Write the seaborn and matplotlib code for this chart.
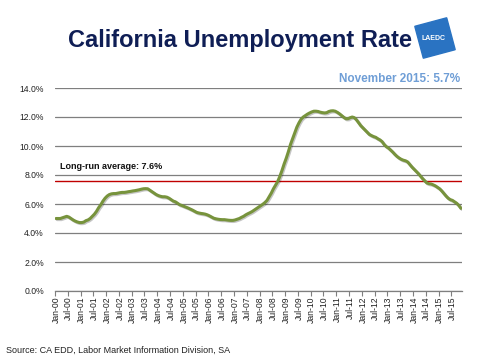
import numpy as np
import pandas as pd
import matplotlib
matplotlib.use('Agg')
import matplotlib.pyplot as plt
import matplotlib.patheffects as pe
from matplotlib.patches import Polygon
import seaborn as sns

# monthly unemployment rate, seasonally adjusted (%)
rate_2000 = [5.0, 5.0, 5.0, 5.05, 5.1, 5.15, 5.1, 5.0, 4.9, 4.82, 4.76, 4.72]
rate_2001 = [4.72, 4.75, 4.85, 4.9, 5.0, 5.15, 5.3, 5.5, 5.75, 5.95, 6.2, 6.4]
rate_2002 = [6.55, 6.65, 6.7, 6.72, 6.72, 6.75, 6.78, 6.8, 6.8, 6.82, 6.85, 6.87]
rate_2003 = [6.9, 6.92, 6.95, 6.98, 7.02, 7.05, 7.06, 7.05, 6.95, 6.85, 6.75, 6.65]
rate_2004 = [6.58, 6.53, 6.5, 6.5, 6.47, 6.4, 6.3, 6.2, 6.15, 6.05, 5.95, 5.9]
rate_2005 = [5.84, 5.78, 5.72, 5.65, 5.58, 5.5, 5.42, 5.38, 5.35, 5.33, 5.3, 5.25]
rate_2006 = [5.18, 5.1, 5.02, 4.98, 4.95, 4.93, 4.92, 4.92, 4.9, 4.88, 4.87, 4.87]
rate_2007 = [4.9, 4.95, 5.0, 5.08, 5.15, 5.25, 5.33, 5.4, 5.48, 5.58, 5.68, 5.78]
rate_2008 = [5.88, 5.98, 6.1, 6.25, 6.5, 6.75, 7.05, 7.3, 7.55, 7.9, 8.3, 8.75]
rate_2009 = [9.15, 9.6, 10.1, 10.5, 10.9, 11.3, 11.6, 11.85, 12.0, 12.1, 12.2, 12.28]
rate_2010 = [12.35, 12.4, 12.4, 12.38, 12.33, 12.3, 12.28, 12.3, 12.38, 12.42, 12.43, 12.4]
rate_2011 = [12.32, 12.22, 12.1, 11.98, 11.88, 11.88, 11.95, 12.0, 11.95, 11.8, 11.6, 11.4]
rate_2012 = [11.25, 11.1, 10.95, 10.8, 10.72, 10.65, 10.6, 10.5, 10.42, 10.3, 10.1, 9.95]
rate_2013 = [9.86, 9.72, 9.58, 9.42, 9.28, 9.17, 9.08, 9.02, 8.98, 8.9, 8.72, 8.55]
rate_2014 = [8.4, 8.25, 8.1, 7.92, 7.75, 7.6, 7.45, 7.4, 7.38, 7.32, 7.25, 7.15]
rate_2015 = [7.05, 6.9, 6.72, 6.55, 6.4, 6.3, 6.25, 6.15, 6.05, 5.9, 5.7]

long_run_avg = 7.6
latest_label = 'November 2015: 5.7%'
y_ticks = [0, 2, 4, 6, 8, 10, 12, 14]

rates = (rate_2000 + rate_2001 + rate_2002 + rate_2003 + rate_2004 + rate_2005
         + rate_2006 + rate_2007 + rate_2008 + rate_2009 + rate_2010 + rate_2011
         + rate_2012 + rate_2013 + rate_2014 + rate_2015)
months = pd.date_range('2000-01-01', periods=len(rates), freq='MS')
df = pd.DataFrame({'idx': np.arange(len(rates)), 'rate': rates})

tick_pos = np.arange(0, len(rates), 6)
tick_labels = [months[i].strftime('%b-%y') for i in tick_pos]

sns.set_theme(style='white')
plt.rcParams['font.family'] = ['Liberation Sans', 'DejaVu Sans']

fig = plt.figure(figsize=(4.8, 3.6), dpi=100)
ax = fig.add_axes([55 / 480, 1 - 291 / 360, 407 / 480, 203 / 360])

ax.axhline(long_run_avg, color='#C00000', lw=1, zorder=2)
sns.lineplot(data=df, x='idx', y='rate', color='#77933C', lw=2.2, ax=ax, zorder=3,
             path_effects=[pe.SimpleLineShadow(offset=(0.8, -0.8), alpha=0.25), pe.Normal()])

ax.text(2, 8.6, 'Long-run average: 7.6%', fontsize=6.5, fontweight='bold',
        color='#111111', va='center', ha='left')

ax.set_xlim(-0.5, len(rates) - 0.5)
ax.set_ylim(0, 14)
ax.set_yticks(y_ticks)
ax.set_yticklabels([f'{v:.1f}%' for v in y_ticks])
ax.set_xticks(tick_pos)
ax.set_xticklabels(tick_labels, rotation=90)
ax.set_xticks(np.arange(-0.5, len(rates), 6), minor=True)
ax.set_xlabel('')
ax.set_ylabel('')

ax.yaxis.grid(True, color='#7F7F7F', lw=0.9)
ax.set_axisbelow(True)
for s in ['left', 'top', 'right']:
    ax.spines[s].set_visible(False)
ax.spines['bottom'].set_color('#7F7F7F')
ax.spines['bottom'].set_linewidth(0.9)
ax.tick_params(axis='y', length=0, pad=8, labelsize=6.2, labelcolor='#222222')
ax.tick_params(axis='x', which='major', length=0, pad=4, labelsize=6.2, labelcolor='#222222')
ax.tick_params(axis='x', which='minor', bottom=True, length=3.5, width=0.8, color='#7F7F7F')

fig.text(240 / 480, 1 - 40 / 360, 'California Unemployment Rate', fontsize=17, fontweight='bold',
         color='#0F1E55', ha='center', va='center')
fig.text(460 / 480, 1 - 79 / 360, latest_label, fontsize=8.5, fontweight='bold',
         color='#6F9ED6', ha='right', va='center')
fig.text(6 / 480, 1 - 350 / 360, 'Source: CA EDD, Labor Market Information Division, SA',
         fontsize=6.5, color='#222222', ha='left', va='center')

# logo
cx, cy, half, ang = 435, 360 - 38, 16.5, np.deg2rad(15)
pts = []
for dx, dy in [(-half, -half), (half, -half), (half, half), (-half, half)]:
    x = cx + dx * np.cos(ang) - dy * np.sin(ang)
    y = cy + dx * np.sin(ang) + dy * np.cos(ang)
    pts.append((x / 480, y / 360))
fig.add_artist(Polygon(pts, closed=True, transform=fig.transFigure, color='#2A73C2'))
fig.text(433 / 480, 1 - 39 / 360, 'LAEDC', fontsize=5, fontweight='bold',
         color='white', ha='center', va='center')

fig.savefig('out.png', dpi=100)
